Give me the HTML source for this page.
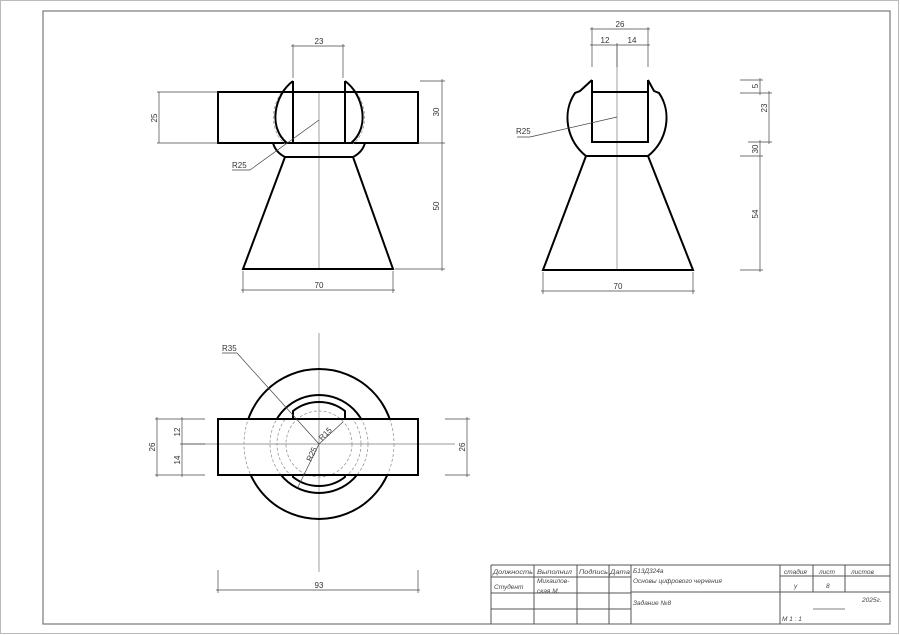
<!DOCTYPE html>
<html><head><meta charset="utf-8"><style>
html,body{margin:0;padding:0;background:#fff;}
svg{display:block;}
text{font-family:"Liberation Sans","DejaVu Sans",sans-serif;fill:#333;}
.k{stroke:#000;stroke-width:2;fill:none;}
.t{stroke:#444;stroke-width:0.7;fill:none;}
.c{stroke:#777;stroke-width:0.7;fill:none;}
.d{stroke:#999;stroke-width:0.8;fill:none;stroke-dasharray:3 2;}
.tb{stroke:#555;stroke-width:1;fill:none;}
.s{font-size:8px;}
.tt{font-size:6.5px;font-style:italic;fill:#444;}
</style></head><body>
<svg width="900" height="635" viewBox="0 0 900 635" xmlns="http://www.w3.org/2000/svg">
<rect x="0.5" y="0.5" width="898" height="633" fill="none" stroke="#bbb" stroke-width="1"/>
<rect x="43" y="11" width="847" height="613" fill="none" stroke="#777" stroke-width="1.2"/>

<!-- FRONT VIEW -->
<line class="c" x1="319" y1="92" x2="319" y2="269"/>
<rect class="k" x="218" y="92" width="200" height="51"/>
<line class="k" x1="293" y1="81" x2="293" y2="143"/>
<line class="k" x1="345" y1="81" x2="345" y2="143"/>
<path class="d" d="M292,82 C272,95 266,128 285,144"/>
<path class="d" d="M346,82 C366,95 372,128 353,144"/>
<path class="k" d="M293,81 C274,95 268,128 287,143"/>
<path class="k" d="M345,81 C364,95 370,128 351,143"/>
<path class="k" d="M273,143 C275,150 279,154 285,157 L353,157 C359,154 363,150 365,143"/>
<path class="k" d="M285,157 L243,269 L393,269 L353,157"/>
<line class="t" x1="293" y1="44" x2="293" y2="78"/><line class="t" x1="343" y1="44" x2="343" y2="78"/>
<line class="t" x1="291" y1="46" x2="345" y2="46"/>
<text class="s" x="319" y="44" text-anchor="middle">23</text>
<line class="t" x1="157" y1="92" x2="218" y2="92"/><line class="t" x1="157" y1="143" x2="218" y2="143"/>
<line class="t" x1="159" y1="92" x2="159" y2="143"/>
<text class="s" transform="translate(157,118) rotate(-90)" text-anchor="middle">25</text>
<line class="t" x1="420" y1="81" x2="445" y2="81"/><line class="t" x1="418" y1="143" x2="445" y2="143"/><line class="t" x1="395" y1="269" x2="445" y2="269"/>
<line class="t" x1="442" y1="79" x2="442" y2="271"/>
<text class="s" transform="translate(439,112) rotate(-90)" text-anchor="middle">30</text>
<text class="s" transform="translate(439,206) rotate(-90)" text-anchor="middle">50</text>
<line class="t" x1="243" y1="271" x2="243" y2="293"/><line class="t" x1="393" y1="271" x2="393" y2="293"/>
<line class="t" x1="241" y1="290" x2="395" y2="290"/>
<text class="s" x="319" y="288" text-anchor="middle">70</text>
<polyline class="t" points="319,120 250,170 232,170"/>
<text class="s" x="232" y="168">R25</text>

<!-- SIDE VIEW -->
<line class="c" x1="617" y1="45" x2="617" y2="270"/>
<rect class="k" x="592" y="92" width="56" height="50"/>
<line class="k" x1="592" y1="80" x2="592" y2="92"/><line class="k" x1="648" y1="80" x2="648" y2="92"/>
<path class="k" d="M592,80 L580,91 L575,93 C562,112 566,140 586,156 L648,156 C668,140 672,112 659,93 L654,91 L648,80"/>
<path class="k" d="M586,156 L543,270 L693,270 L648,156"/>
<line class="t" x1="592" y1="27" x2="592" y2="67"/><line class="t" x1="648" y1="27" x2="648" y2="67"/><line class="t" x1="617" y1="43" x2="617" y2="67"/>
<line class="t" x1="590" y1="29" x2="650" y2="29"/>
<line class="t" x1="590" y1="45" x2="650" y2="45"/>
<text class="s" x="620" y="27" text-anchor="middle">26</text>
<text class="s" x="605" y="43" text-anchor="middle">12</text>
<text class="s" x="632" y="43" text-anchor="middle">14</text>
<line class="t" x1="543" y1="272" x2="543" y2="294"/><line class="t" x1="693" y1="272" x2="693" y2="294"/>
<line class="t" x1="541" y1="291" x2="695" y2="291"/>
<text class="s" x="618" y="289" text-anchor="middle">70</text>
<polyline class="t" points="617,117 530,137 517,137"/>
<text class="s" x="516" y="134">R25</text>
<line class="t" x1="740" y1="80" x2="763" y2="80"/><line class="t" x1="740" y1="93" x2="772" y2="93"/>
<line class="t" x1="748" y1="142" x2="772" y2="142"/><line class="t" x1="740" y1="156" x2="763" y2="156"/><line class="t" x1="740" y1="270" x2="763" y2="270"/>
<line class="t" x1="760" y1="78" x2="760" y2="95"/>
<line class="t" x1="769" y1="91" x2="769" y2="144"/>
<line class="t" x1="760" y1="140" x2="760" y2="272"/>
<text class="s" transform="translate(758,86) rotate(-90)" text-anchor="middle">5</text>
<text class="s" transform="translate(767,108) rotate(-90)" text-anchor="middle">23</text>
<text class="s" transform="translate(758,149) rotate(-90)" text-anchor="middle">30</text>
<text class="s" transform="translate(758,214) rotate(-90)" text-anchor="middle">54</text>

<!-- TOP VIEW -->
<defs>
<clipPath id="out"><path d="M0,0 H900 V419 H0 Z M0,475 H900 V635 H0 Z"/></clipPath>
<clipPath id="in"><rect x="218" y="419" width="200" height="56"/></clipPath>
</defs>
<line class="c" x1="319" y1="333" x2="319" y2="572"/>
<line class="c" x1="183" y1="444" x2="455" y2="444"/>
<g clip-path="url(#out)">
<circle class="k" cx="319" cy="444" r="75"/>
<circle class="k" cx="319" cy="444" r="49"/>
</g>
<g clip-path="url(#in)">
<circle class="d" cx="319" cy="444" r="75"/>
<circle class="d" cx="319" cy="444" r="49"/>
<circle class="d" cx="319" cy="444" r="42"/>
</g>
<circle class="d" cx="319" cy="444" r="33"/>
<path class="k" d="M293,419 L293,411 A42,42 0 0 1 345,411 L345,419"/>
<path class="k" d="M293,475 L293,477 A42,42 0 0 0 345,477 L345,475"/>
<rect class="k" x="218" y="419" width="200" height="56"/>
<line class="t" x1="155" y1="419" x2="205" y2="419"/><line class="t" x1="155" y1="475" x2="205" y2="475"/><line class="t" x1="180" y1="444" x2="205" y2="444"/>
<line class="t" x1="157" y1="417" x2="157" y2="477"/>
<line class="t" x1="182" y1="417" x2="182" y2="477"/>
<text class="s" transform="translate(155,447) rotate(-90)" text-anchor="middle">26</text>
<text class="s" transform="translate(180,432) rotate(-90)" text-anchor="middle">12</text>
<text class="s" transform="translate(180,460) rotate(-90)" text-anchor="middle">14</text>
<line class="t" x1="445" y1="419" x2="470" y2="419"/><line class="t" x1="445" y1="475" x2="470" y2="475"/>
<line class="t" x1="467" y1="417" x2="467" y2="477"/>
<text class="s" transform="translate(465,447) rotate(-90)" text-anchor="middle">26</text>
<line class="t" x1="218" y1="570" x2="218" y2="593"/><line class="t" x1="418" y1="570" x2="418" y2="593"/>
<line class="t" x1="216" y1="590" x2="420" y2="590"/>
<text class="s" x="319" y="588" text-anchor="middle">93</text>
<polyline class="t" points="222,353 237,353 319,444"/>
<text class="s" x="222" y="351">R35</text>
<line class="t" x1="319" y1="444" x2="343" y2="422"/>
<text class="s" transform="translate(322,441) rotate(-45)">R15</text>
<line class="t" x1="319" y1="444" x2="298" y2="487"/>
<text class="s" transform="translate(311,462) rotate(-65)">R25</text>

<!-- TITLE BLOCK -->
<g class="tb">
<line x1="491" y1="565" x2="890" y2="565"/>
<line x1="491" y1="565" x2="491" y2="624"/>
<line x1="491" y1="577" x2="631" y2="577"/>
<line x1="491" y1="593" x2="631" y2="593"/>
<line x1="491" y1="609" x2="631" y2="609"/>
<line x1="631" y1="592" x2="890" y2="592"/>
<line x1="780" y1="576" x2="890" y2="576"/>
<line x1="534" y1="565" x2="534" y2="624"/>
<line x1="577" y1="565" x2="577" y2="624"/>
<line x1="609" y1="565" x2="609" y2="624"/>
<line x1="631" y1="565" x2="631" y2="624"/>
<line x1="780" y1="565" x2="780" y2="624"/>
<line x1="813" y1="565" x2="813" y2="592"/>
<line x1="845" y1="565" x2="845" y2="592"/>
<line x1="813" y1="609" x2="845" y2="609" stroke-width="0.7"/>
</g>
<text class="tt" x="493" y="574" textLength="40" lengthAdjust="spacingAndGlyphs">Должность</text>
<text class="tt" x="537" y="574" textLength="35" lengthAdjust="spacingAndGlyphs">Выполнил</text>
<text class="tt" x="579" y="574" textLength="29" lengthAdjust="spacingAndGlyphs">Подпись</text>
<text class="tt" x="610" y="574" textLength="20" lengthAdjust="spacingAndGlyphs">Дата</text>
<text class="tt" x="494" y="589">Студент</text>
<text class="tt" x="537" y="583">Михаилов-</text>
<text class="tt" x="537" y="593">ская М.</text>
<text class="tt" x="633" y="573">Б13Д324а</text>
<text class="tt" x="633" y="583">Основы цифрового черчения</text>
<text class="tt" x="633" y="605">Задание №8</text>
<text class="tt" x="784" y="574">стадия</text>
<text class="tt" x="819" y="574">лист</text>
<text class="tt" x="851" y="574">листов</text>
<text class="tt" x="794" y="588">у</text>
<text class="tt" x="826" y="588">8</text>
<text class="tt" x="862" y="602">2025г.</text>
<text class="tt" x="782" y="621">М 1 : 1</text>
</svg>
</body></html>
